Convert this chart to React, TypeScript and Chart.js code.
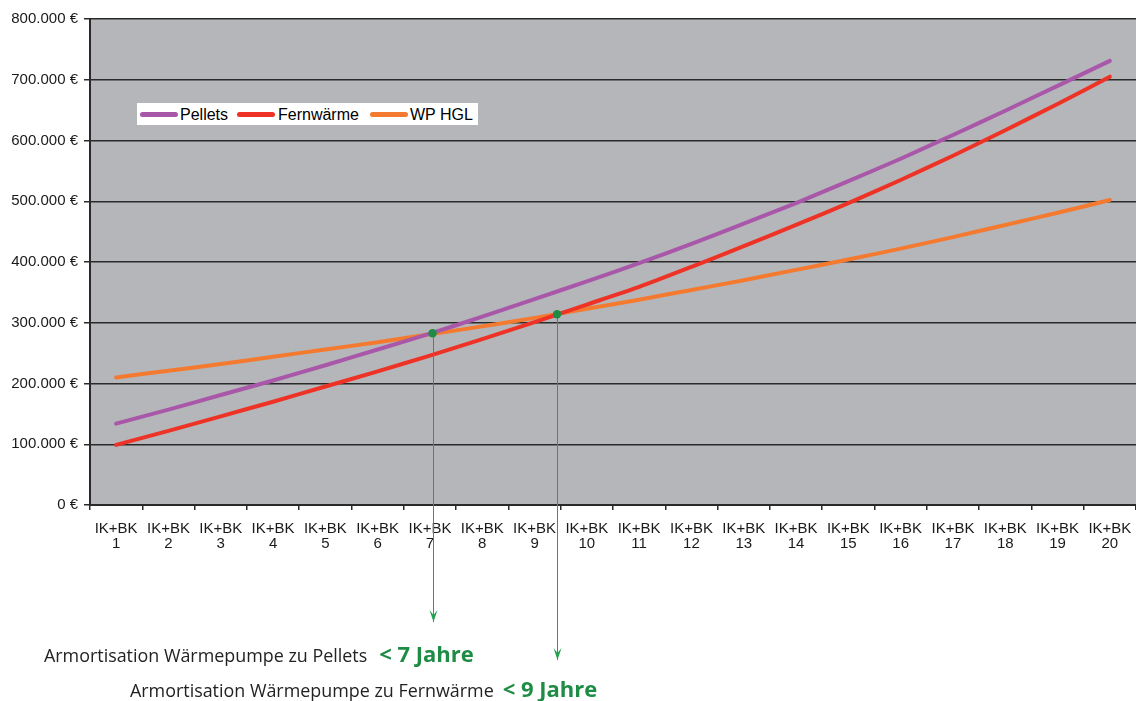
import React, { useEffect, useRef } from 'react';
import { Chart, registerables } from 'chart.js';

Chart.register(...registerables);

// ---------- data ----------
const years = ['1', '2', '3', '4', '5', '6', '7', '8', '9', '10', '11', '12', '13', '14', '15', '16', '17', '18', '19', '20'];
const categoryPrefix = 'IK+BK';
const seriesNames = ['Pellets', 'Fernwärme', 'WP HGL'];
const seriesColors = ['#a957a9', '#ee3326', '#f47a30'];
const pellets = [134000, 157000, 181000, 205000, 230000, 256000, 282000, 310000, 339000, 368000, 398000, 430000, 463000, 497000, 533000, 570000, 609000, 649000, 690000, 731000];
const fernwaerme = [99000, 122000, 146000, 170000, 195000, 220000, 246000, 273000, 301000, 330000, 359000, 392000, 426000, 461000, 497000, 535000, 575000, 617000, 660000, 705000];
const wpHgl = [210000, 221000, 232000, 244000, 256000, 268000, 281000, 294000, 308000, 323000, 338000, 354000, 370000, 387000, 404000, 422000, 441000, 461000, 481000, 502000];
// break-even points (position on the year axis, cost value)
const breakEvenYear = [7.05, 9.43];
const breakEvenCost = [282600, 314000];
const yTicks = [0, 100000, 200000, 300000, 400000, 500000, 600000, 700000, 800000];
const noteTexts = ['Armortisation Wärmepumpe zu Pellets', 'Armortisation Wärmepumpe zu Fernwärme'];
const noteValues = ['< 7 Jahre', '< 9 Jahre'];

const GREEN = '#1f8c46';
const ARROW_GREEN = '#23a050';
const PLOT_BG = '#b5b6ba';
const GRID = '#2a2a2a';
const arrowTips = [622, 660];

const fmtEuro = (v: number) => (v === 0 ? '0 €' : `${Math.round(v / 1000)}.000 €`);

const plotBgPlugin = {
  id: 'plotBg',
  beforeDraw(chart: any) {
    const { ctx, chartArea } = chart;
    if (!chartArea) return;
    ctx.save();
    ctx.fillStyle = PLOT_BG;
    ctx.fillRect(chartArea.left, chartArea.top, chartArea.right - chartArea.left, chartArea.bottom - chartArea.top);
    ctx.restore();
  },
};

const arrowPlugin = {
  id: 'arrows',
  afterDraw(chart: any) {
    const { ctx } = chart;
    const xs = chart.scales.x;
    const ys = chart.scales.y;
    ctx.save();
    breakEvenYear.forEach((yr, i) => {
      const i0 = Math.floor(yr) - 1;
      const frac = yr - Math.floor(yr);
      const p0 = xs.getPixelForValue(i0);
      const p1 = xs.getPixelForValue(i0 + 1);
      const px = p0 + frac * (p1 - p0);
      const py = ys.getPixelForValue(breakEvenCost[i]);
      const x = Math.round(px) + 0.5;
      const y1 = arrowTips[i];
      ctx.strokeStyle = ARROW_GREEN;
      ctx.lineWidth = 1;
      ctx.beginPath();
      ctx.moveTo(x, py);
      ctx.lineTo(x, y1);
      ctx.stroke();
      ctx.fillStyle = ARROW_GREEN;
      ctx.beginPath();
      ctx.moveTo(x, y1);
      ctx.lineTo(x - 4, y1 - 12);
      ctx.lineTo(x, y1 - 7);
      ctx.lineTo(x + 4, y1 - 12);
      ctx.closePath();
      ctx.fill();
      ctx.fillStyle = GREEN;
      ctx.beginPath();
      ctx.arc(px, py, 4.2, 0, Math.PI * 2);
      ctx.fill();
    });
    ctx.restore();
  },
};

export default function App() {
  const canvasRef = useRef<HTMLCanvasElement | null>(null);

  useEffect(() => {
    const canvas = canvasRef.current;
    if (!canvas) return;
    const values = [pellets, fernwaerme, wpHgl];
    const chart = new Chart(canvas, {
      type: 'line',
      data: {
        labels: years.map((y) => [categoryPrefix, y]),
        datasets: values.map((data, i) => ({
          label: seriesNames[i],
          data,
          borderColor: seriesColors[i],
          backgroundColor: seriesColors[i],
          borderWidth: 4,
          pointRadius: 0,
          tension: 0.2,
          borderCapStyle: 'round' as const,
          borderJoinStyle: 'round' as const,
          fill: false,
        })),
      },
      options: {
        animation: false,
        responsive: false,
        maintainAspectRatio: false,
        devicePixelRatio: 1,
        layout: { padding: { top: 19, right: 0, left: 0, bottom: 0 } },
        plugins: {
          legend: { display: false },
          tooltip: { enabled: false },
          title: { display: false },
        },
        scales: {
          x: {
            type: 'category',
            offset: true,
            grid: { offset: true, drawOnChartArea: false, drawTicks: true, tickLength: 5, color: GRID, lineWidth: 1.5 },
            border: { color: GRID, width: 2 },
            ticks: {
              autoSkip: false,
              maxRotation: 0,
              minRotation: 0,
              padding: 11,
              color: '#1a1a1a',
              font: { family: '"Liberation Sans", Arial, sans-serif', size: 15, lineHeight: 1.0 },
            },
            afterFit: (s: any) => {
              s.height = 196;
              s.paddingLeft = 0;
              s.paddingRight = 0;
            },
          },
          y: {
            min: 0,
            max: 800000,
            afterBuildTicks: (s: any) => {
              s.ticks = yTicks.map((v) => ({ value: v }));
            },
            ticks: {
              color: '#1a1a1a',
              padding: 6,
              font: { family: '"Liberation Sans", Arial, sans-serif', size: 15 },
              callback: (v: any) => fmtEuro(Number(v)),
            },
            grid: { color: GRID, lineWidth: 1.5, tickLength: 6, drawTicks: true },
            border: { color: GRID, width: 2 },
            afterFit: (s: any) => {
              s.width = 90;
              s.paddingTop = 0;
              s.paddingBottom = 0;
            },
          },
        },
      } as any,
      plugins: [plotBgPlugin, arrowPlugin],
    });
    return () => chart.destroy();
  }, []);

  const legendLines = [3, 100, 233];
  const legendTexts = [43, 141, 273];

  return (
    <div style={{ position: 'absolute', left: 0, top: 0, width: 1136, height: 701, overflow: 'hidden', background: '#fff' }}>
      <canvas ref={canvasRef} width={1136} height={701} style={{ position: 'absolute', left: 0, top: 0, width: 1136, height: 701 }} />
      <div
        style={{
          position: 'absolute',
          left: 137,
          top: 103,
          width: 341,
          height: 22,
          background: '#ffffff',
          fontFamily: '"Liberation Sans", Arial, sans-serif',
          fontSize: 16,
          color: '#000',
        }}
      >
        {seriesNames.map((name, i) => (
          <React.Fragment key={name}>
            <div
              style={{
                position: 'absolute',
                left: legendLines[i],
                top: 9,
                width: 38,
                height: 5,
                borderRadius: 3,
                background: seriesColors[i],
              }}
            />
            <div style={{ position: 'absolute', left: legendTexts[i], top: 3, lineHeight: '18px', whiteSpace: 'nowrap' }}>{name}</div>
          </React.Fragment>
        ))}
      </div>
      {noteTexts.map((t, i) => (
        <div
          key={t}
          style={{
            position: 'absolute',
            left: i === 0 ? 44 : 130,
            top: i === 0 ? 640 : 675,
            whiteSpace: 'nowrap',
            fontFamily: '"Open Sans", "Noto Sans", sans-serif',
            fontSize: 17.9,
            lineHeight: '26px',
            color: '#222',
          }}
        >
          <span>{t}</span>
          <span style={{ marginLeft: i === 0 ? 12 : 9, color: GREEN, fontWeight: 700, fontSize: 22 }}>{noteValues[i]}</span>
        </div>
      ))}
    </div>
  );
}
